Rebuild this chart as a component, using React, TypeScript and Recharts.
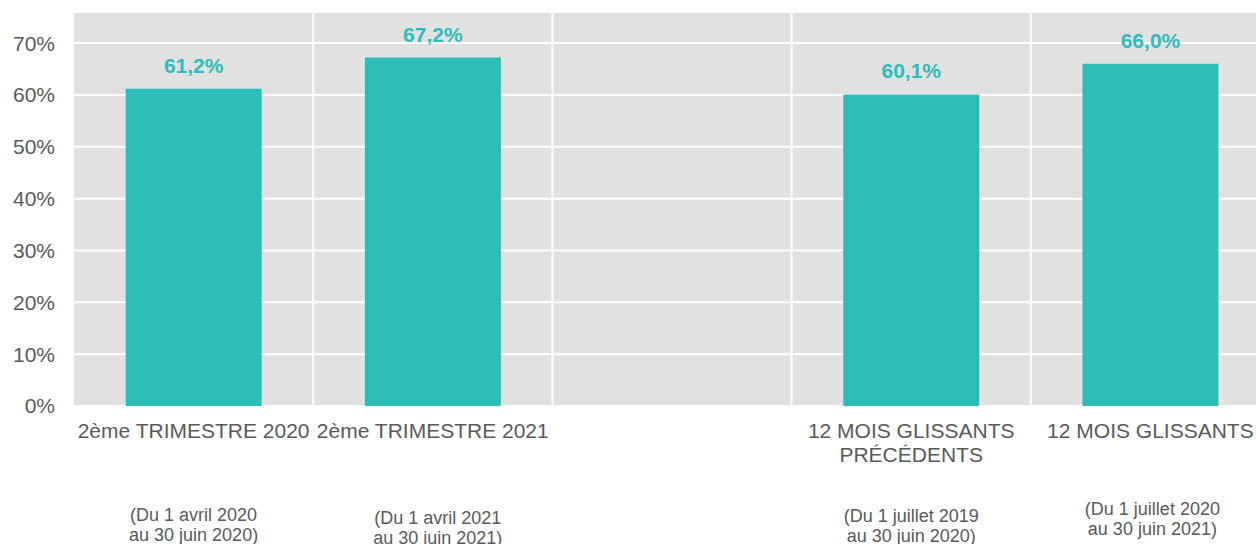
import React from "react";
import { BarChart, Bar, XAxis, YAxis, CartesianGrid, LabelList } from "recharts";

// catégories (la 3e est une colonne vide qui sépare les deux blocs)
const categories = ["t2-2020", "t2-2021", "vide", "12m-prec", "12m"];
const titleLines = [
  ["2ème TRIMESTRE 2020"],
  ["2ème TRIMESTRE 2021"],
  [],
  ["12 MOIS GLISSANTS", "PRÉCÉDENTS"],
  ["12 MOIS GLISSANTS"],
];
const periodLines = [
  ["(Du 1 avril 2020", "au 30 juin 2020)"],
  ["(Du 1 avril 2021", "au 30 juin 2021)"],
  [],
  ["(Du 1 juillet 2019", "au 30 juin 2020)"],
  ["(Du 1 juillet 2020", "au 30 juin 2021)"],
];
const rates = [61.2, 67.2, null, 60.1, 66.0];
const yTicks = [0, 10, 20, 30, 40, 50, 60, 70];

const chartData = categories.map((cat, i) => ({ cat, taux: rates[i] }));

// petits décalages des lignes de période, comme dans l'original
const periodShift = [
  { dx: 0, dy: 0 },
  { dx: 5, dy: 3 },
  { dx: 0, dy: 0 },
  { dx: 0, dy: 1 },
  { dx: 2, dy: -6 },
];

const TEAL = "#2cbdb9";
const GREY_TEXT = "#595959";
const FONT = "'Liberation Sans', Arial, sans-serif";

const fmtPct = (v: any) => (v == null ? "" : `${Number(v).toFixed(1).replace(".", ",")}%`);

function CategoryTick(props: any) {
  const { x, y, payload } = props;
  const i = categories.indexOf(payload.value);
  if (i < 0) return null;
  const shift = periodShift[i];
  return (
    <g>
      {titleLines[i].map((line, k) => (
        <text
          key={"t" + k}
          x={x}
          y={y + 32 + k * 24}
          textAnchor="middle"
          fontSize={21}
          fill={GREY_TEXT}
          fontFamily={FONT}
        >
          {line}
        </text>
      ))}
      {periodLines[i].map((line, k) => (
        <text
          key={"p" + k}
          x={x + shift.dx}
          y={y + 115 + shift.dy + k * 20}
          textAnchor="middle"
          fontSize={18}
          fill={GREY_TEXT}
          fontFamily={FONT}
        >
          {line}
        </text>
      ))}
    </g>
  );
}

export default function App() {
  return (
    <div
      style={{
        position: "absolute",
        top: 0,
        left: 0,
        width: 1256,
        height: 544,
        overflow: "hidden",
        background: "#fff",
        fontFamily: FONT,
      }}
    >
      <BarChart
        width={1280}
        height={544}
        data={chartData}
        margin={{ top: 12, right: 10, bottom: 0, left: 0 }}
        barCategoryGap="21.6%"
      >
        <CartesianGrid
          fill="#e1e1e1"
          stroke="#ffffff"
          strokeWidth={2}
          verticalCoordinatesGenerator={({ offset }: any) =>
            categories.map((_, i) => offset.left + ((i + 1) * offset.width) / categories.length)
          }
        />
        <XAxis
          dataKey="cat"
          axisLine={false}
          tickLine={false}
          tickSize={0}
          tickMargin={0}
          height={138}
          interval={0}
          tick={<CategoryTick />}
        />
        <YAxis
          width={74}
          domain={[0, 76]}
          ticks={yTicks}
          axisLine={false}
          tickLine={false}
          tickSize={0}
          tickMargin={19}
          tickFormatter={(v: number) => `${v}%`}
          tick={{ fontSize: 21, fill: GREY_TEXT, fontFamily: FONT }}
        />
        <Bar dataKey="taux" fill={TEAL} isAnimationActive={false}>
          <LabelList
            dataKey="taux"
            position="top"
            offset={16}
            formatter={fmtPct}
            fill={TEAL}
            fontSize={21}
            fontWeight="bold"
            fontFamily={FONT}
          />
        </Bar>
      </BarChart>
    </div>
  );
}
